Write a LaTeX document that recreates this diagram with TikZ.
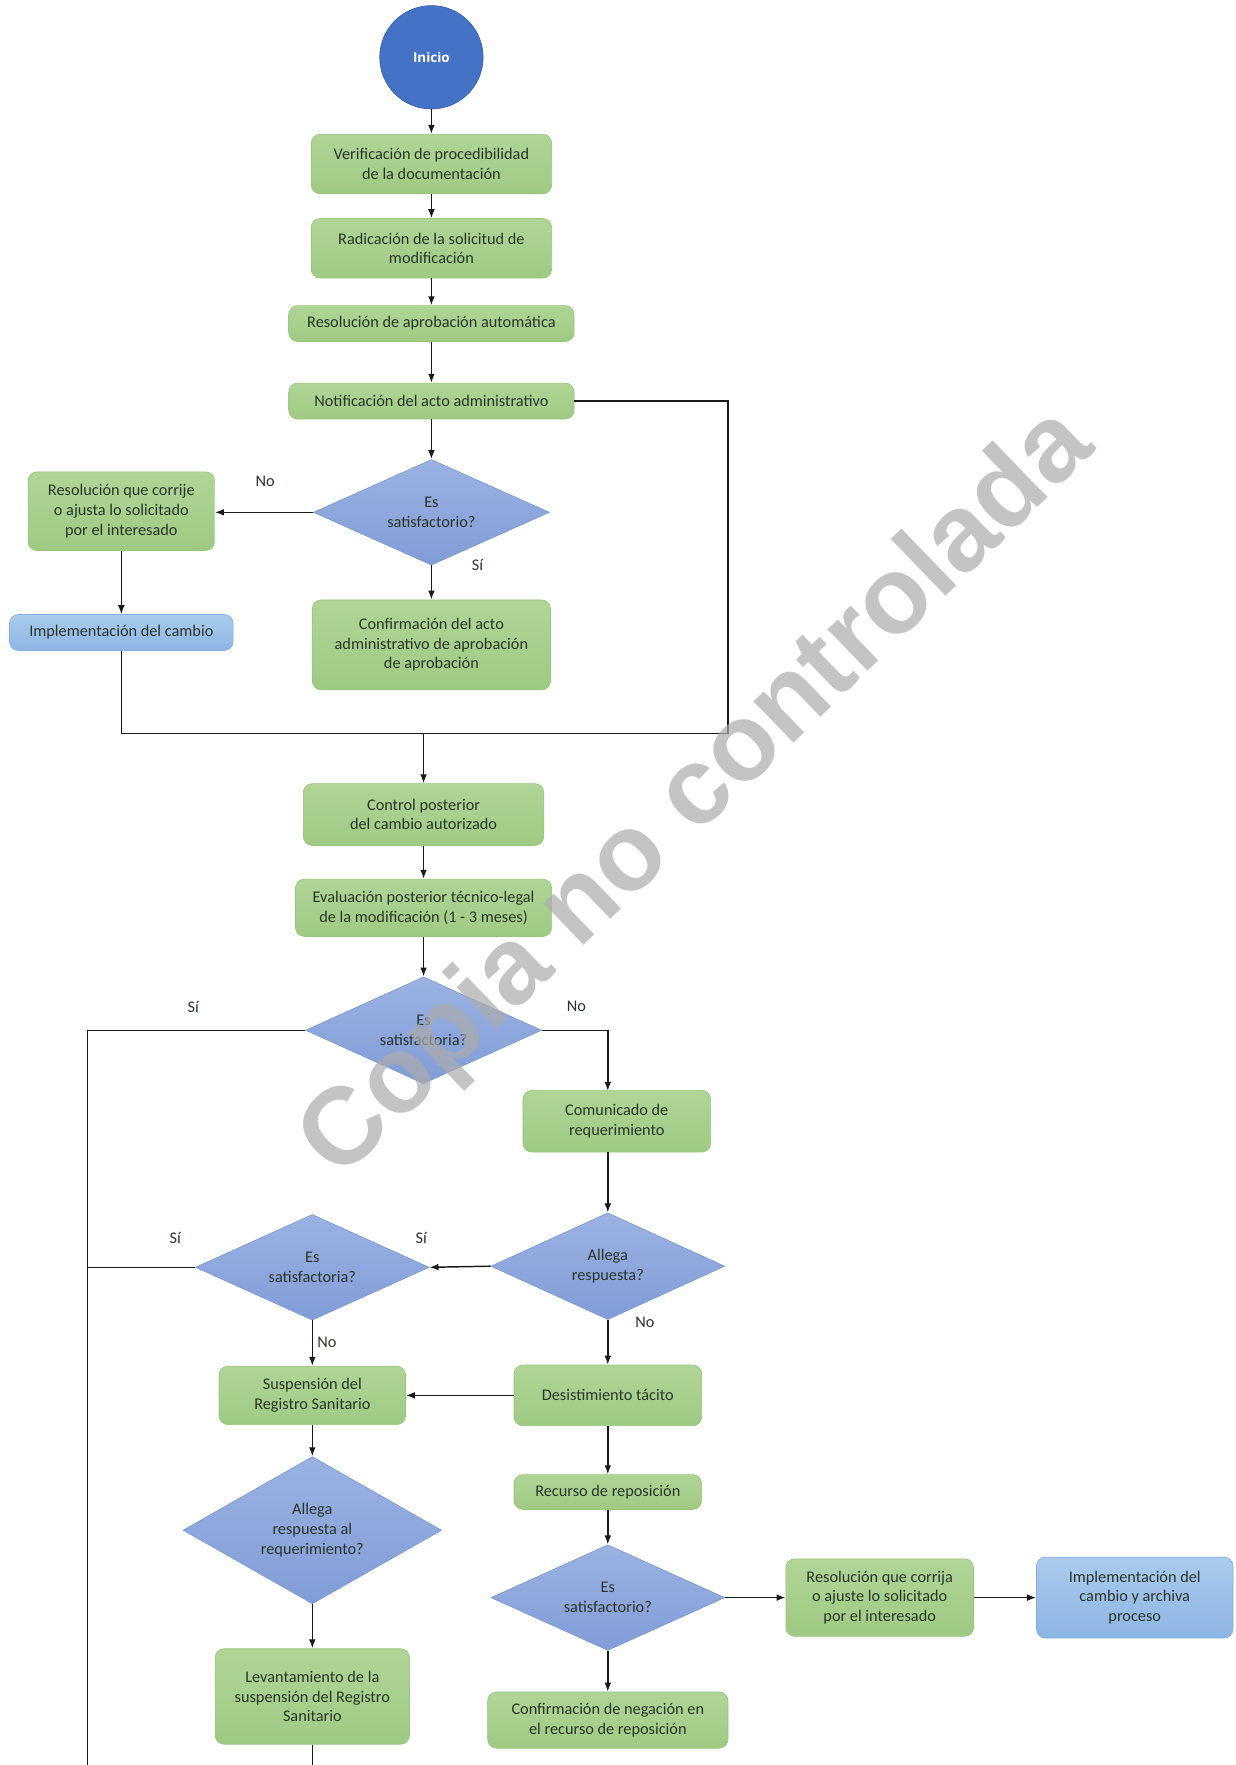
\documentclass[tikz,border=0pt]{standalone}
\usepackage{fontspec}
\setmainfont{Carlito}
\newfontfamily\wmfont{Liberation Sans}
\newfontfamily\inifont{Open Sans}
\usetikzlibrary{shapes.geometric,arrows.meta,positioning,calc}
\definecolor{txt}{HTML}{2A352A}
\definecolor{lin}{HTML}{1A1A1A}
\definecolor{gtop}{HTML}{B0D597}
\definecolor{gbot}{HTML}{9FCA83}
\definecolor{gdraw}{HTML}{9AC57F}
\definecolor{btop}{HTML}{AACBED}
\definecolor{bbot}{HTML}{8DB5E3}
\definecolor{bdraw}{HTML}{86AEDD}
\definecolor{dtop}{HTML}{9BB2E2}
\definecolor{dbot}{HTML}{819DD7}
\definecolor{ddraw}{HTML}{7E9AD4}
\definecolor{inifill}{HTML}{4472C4}
\definecolor{inidraw}{HTML}{3760AA}
\begin{document}
\begin{tikzpicture}[x=1pt,y=-1pt,
  font=\fontsize{14.5}{17.5}\selectfont,
  gbox/.style={rectangle,rounded corners=8pt,top color=gtop,bottom color=gbot,draw=gdraw,line width=0.6pt,text=txt,align=center,inner sep=2pt},
  bbox/.style={rectangle,rounded corners=8pt,top color=btop,bottom color=bbot,draw=bdraw,line width=0.6pt,text=txt,align=center,inner sep=2pt},
  dmd/.style={diamond,top color=dtop,bottom color=dbot,draw=ddraw,line width=0.6pt,text=txt,align=center,inner sep=0pt,shape aspect=2.2},
  lbl/.style={text=txt,inner sep=1pt},
  conn/.style={draw=lin,line width=1.3pt},
  arr/.style={conn,-{Latex[length=8pt,width=6pt]}}
]
\fill[white] (0,0) rectangle (1100,1571);
\useasboundingbox (0,0) rectangle (1100,1571);

% nodes
\node[circle,fill=inifill,draw=inidraw,line width=0.6pt,minimum size=92pt,inner sep=0pt,text=white,font=\inifont\bfseries\fontsize{12}{14}\selectfont] (ini) at (384,51) {Inicio};
\node[gbox,minimum width=214pt,minimum height=53pt] (verif) at (384,146) {Verificación de procedibilidad\\de la documentación};
\node[gbox,minimum width=214pt,minimum height=53pt] (radic) at (384,221) {Radicación de la solicitud de\\modificación};
\node[gbox,minimum width=254pt,minimum height=32pt] (resaut) at (384,288) {Resolución de aprobación automática};
\node[gbox,minimum width=254pt,minimum height=32pt] (notif) at (384,357) {Notificación del acto administrativo};
\node[dmd,minimum width=210pt,minimum height=94pt] (d1) at (384,456) {Es\\satisfactorio?};
\node[gbox,minimum width=166pt,minimum height=70pt] (rescorr) at (108,455) {Resolución que corrije\\o ajusta lo solicitado\\por el interesado};
\node[bbox,minimum width=199pt,minimum height=32pt] (impl) at (108,563) {Implementación del cambio};
\node[gbox,minimum width=212pt,minimum height=80pt] (confacto) at (384,574) {Confirmación del acto\\administrativo de aprobación\\de aprobación};
\node[gbox,minimum width=214pt,minimum height=55pt] (control) at (377,725) {Control posterior\\del cambio autorizado};
\node[gbox,minimum width=228pt,minimum height=51pt] (eval) at (377,808) {Evaluación posterior técnico-legal\\de la modificación (1 - 3 meses)};
\node[dmd,minimum width=210pt,minimum height=95pt] (d2) at (377,917) {Es\\satisfactoria?};
\node[gbox,minimum width=167pt,minimum height=55pt] (comun) at (549,998) {Comunicado de\\requerimiento};
\node[dmd,minimum width=208pt,minimum height=95pt] (d3) at (541,1127) {Allega\\respuesta?};
\node[dmd,minimum width=208pt,minimum height=94pt] (d4) at (278,1128) {Es\\satisfactoria?};
\node[gbox,minimum width=166pt,minimum height=52pt] (susp) at (278,1242) {Suspensión del\\Registro Sanitario};
\node[gbox,minimum width=167pt,minimum height=54pt] (desist) at (541,1242) {Desistimiento tácito};
\node[gbox,minimum width=167pt,minimum height=31pt] (recurso) at (541,1328) {Recurso de reposición};
\node[dmd,minimum width=208pt,minimum height=94pt] (d5) at (541,1422) {Es\\satisfactorio?};
\node[gbox,minimum width=167pt,minimum height=69pt] (rescorr2) at (783,1422) {Resolución que corrija\\o ajuste lo solicitado\\por el interesado};
\node[bbox,minimum width=175pt,minimum height=72pt] (impl2) at (1010,1422) {Implementación del\\cambio y archiva\\proceso};
\node[gbox,minimum width=214pt,minimum height=50pt] (confneg) at (541,1531) {Confirmación de negación en\\el recurso de reposición};
\node[dmd,shape aspect=1.75,minimum width=230pt,minimum height=131pt] (d6) at (278,1362) {Allega\\respuesta al\\requerimiento?};
\node[gbox,minimum width=173pt,minimum height=85pt] (levant) at (278,1510) {Levantamiento de la\\suspensión del Registro\\Sanitario};

% labels
\node[lbl] (l1) at (236,428) {No};
\node[lbl] (l2) at (425,503) {Sí};
\node[lbl] (l3) at (172,896) {Sí};
\node[lbl] (l4) at (513,896) {No};
\node[lbl] (l5) at (156,1102) {Sí};
\node[lbl] (l6) at (375,1102) {Sí};
\node[lbl] (l7) at (574,1177) {No};
\node[lbl] (l8) at (291,1195) {No};

% coordinates
\coordinate (jl) at (108,653);
\coordinate (jr) at (648,653);
\coordinate (jm) at (control.north |- jl);
\coordinate (vl) at (78,917);
\coordinate (vb) at (78,1571);
\coordinate (lb) at (278,1571);
\coordinate (cin) at (541,971);

% connectors
\draw[arr] (ini) -- (verif);
\draw[arr] (verif) -- (radic);
\draw[arr] (radic) -- (resaut);
\draw[arr] (resaut) -- (notif);
\draw[arr] (notif) -- (d1);
\draw[arr] (d1.west) -- (d1.west -| rescorr.east);
\draw[arr] (d1.south) -- (confacto.north);
\draw[arr] (rescorr) -- (impl);
\draw[conn] (impl.south) -- (jl) -- (jr);
\draw[conn] (notif.east) -| (jr);
\draw[arr] (jm) -- (control.north);
\draw[arr] (control) -- (eval);
\draw[arr] (eval) -- (d2);
\draw[conn] (d2.west) -- (vl) -- (vb);
\draw[arr] (d2.east) -| (cin);
\draw[arr] (comun.south -| d3.north) -- (d3.north);
\draw[arr] (d3.west) -- (d4.east);
\draw[conn] (d4.west) -- (d4.west -| vl);
\draw[arr] (d4.south) -- (susp.north);
\draw[arr] (d3.south) -- (desist.north);
\draw[arr] (desist.west) -- (susp.east);
\draw[arr] (desist) -- (recurso);
\draw[arr] (recurso) -- (d5);
\draw[arr] (d5.east) -- (rescorr2.west);
\draw[arr] (rescorr2) -- (impl2);
\draw[arr] (d5.south) -- (confneg.north);
\draw[arr] (susp) -- (d6);
\draw[arr] (d6.south) -- (levant.north);
\draw[conn] (levant.south) -- (lb);

% watermark
\node[rotate=44,text=black!33,opacity=0.7,font=\wmfont\bfseries\fontsize{97}{100}\selectfont,inner sep=0pt] (wm) at (622,708) {Copia no controlada};
\end{tikzpicture}
\end{document}
